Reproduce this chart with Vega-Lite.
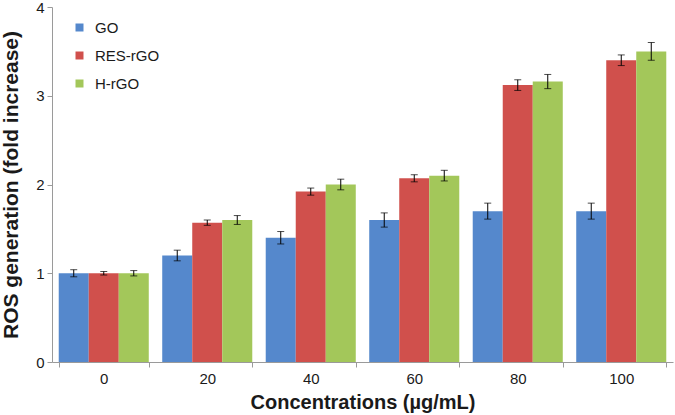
{
  "$schema": "https://vega.github.io/schema/vega-lite/v6.json",
  "width": 621,
  "height": 355,
  "autosize": {"type": "none"},
  "padding": {"left": 52, "top": 7, "right": 2, "bottom": 53},
  "background": "white",
  "config": {
    "view": {"stroke": null},
    "font": "Liberation Sans",
    "axis": {"grid": false, "domainColor": "#9a9a9a", "tickColor": "#9a9a9a", "labelColor": "#1a1a1a", "titleColor": "#1a1a1a", "labelFont": "Liberation Sans", "titleFont": "Liberation Sans"}
  },
  "data": {
    "values": [
      {"conc": "0", "series": "GO", "value": 1.0, "err": 0.04},
      {"conc": "0", "series": "RES-rGO", "value": 1.0, "err": 0.02},
      {"conc": "0", "series": "H-rGO", "value": 1.0, "err": 0.03},
      {"conc": "20", "series": "GO", "value": 1.2, "err": 0.06},
      {"conc": "20", "series": "RES-rGO", "value": 1.57, "err": 0.03},
      {"conc": "20", "series": "H-rGO", "value": 1.6, "err": 0.05},
      {"conc": "40", "series": "GO", "value": 1.4, "err": 0.07},
      {"conc": "40", "series": "RES-rGO", "value": 1.92, "err": 0.04},
      {"conc": "40", "series": "H-rGO", "value": 2.0, "err": 0.06},
      {"conc": "60", "series": "GO", "value": 1.6, "err": 0.08},
      {"conc": "60", "series": "RES-rGO", "value": 2.07, "err": 0.04},
      {"conc": "60", "series": "H-rGO", "value": 2.1, "err": 0.06},
      {"conc": "80", "series": "GO", "value": 1.7, "err": 0.09},
      {"conc": "80", "series": "RES-rGO", "value": 3.12, "err": 0.06},
      {"conc": "80", "series": "H-rGO", "value": 3.16, "err": 0.08},
      {"conc": "100", "series": "GO", "value": 1.7, "err": 0.09},
      {"conc": "100", "series": "RES-rGO", "value": 3.4, "err": 0.06},
      {"conc": "100", "series": "H-rGO", "value": 3.5, "err": 0.1}
    ]
  },
  "encoding": {
    "x": {
      "field": "conc", "type": "nominal", "sort": ["0", "20", "40", "60", "80", "100"],
      "scale": {"paddingInner": 0.13, "paddingOuter": 0.065},
      "axis": {"title": "Concentrations (µg/mL)", "labelAngle": 0, "labelFontSize": 15, "titleFontSize": 20, "titleFontWeight": "bold", "tickBand": "extent", "tickSize": 5, "labelPadding": 4, "titlePadding": 6}
    },
    "xOffset": {"field": "series", "type": "nominal", "sort": ["GO", "RES-rGO", "H-rGO"], "scale": {"paddingInner": 0, "paddingOuter": 0}}
  },
  "layer": [
    {
      "mark": {"type": "bar"},
      "encoding": {
        "y": {
          "field": "value", "type": "quantitative",
          "scale": {"domain": [0, 4], "nice": false},
          "axis": {"title": "ROS generation (fold increase)", "values": [0, 1, 2, 3, 4], "format": "d", "labelFontSize": 15, "titleFontSize": 21, "titleFontWeight": "bold", "tickSize": 5, "labelPadding": 3, "titlePadding": 14}
        },
        "color": {
          "field": "series", "type": "nominal", "sort": ["GO", "RES-rGO", "H-rGO"],
          "scale": {"domain": ["GO", "RES-rGO", "H-rGO"], "range": ["#5588cc", "#d0504c", "#a3c75a"]},
          "legend": {"title": null, "orient": "none", "legendX": 20, "legendY": 13, "padding": 0, "symbolType": "square", "symbolSize": 64, "symbolStrokeWidth": 0, "labelFontSize": 15, "labelFont": "Liberation Sans", "labelColor": "#1a1a1a", "labelOffset": 8, "rowPadding": 12}
        }
      }
    },
    {
      "mark": {"type": "errorbar", "ticks": {"size": 7, "color": "black"}, "color": "black", "thickness": 1},
      "encoding": {
        "y": {"field": "value", "type": "quantitative", "title": "ROS generation (fold increase)"},
        "yError": {"field": "err"}
      }
    }
  ]
}
